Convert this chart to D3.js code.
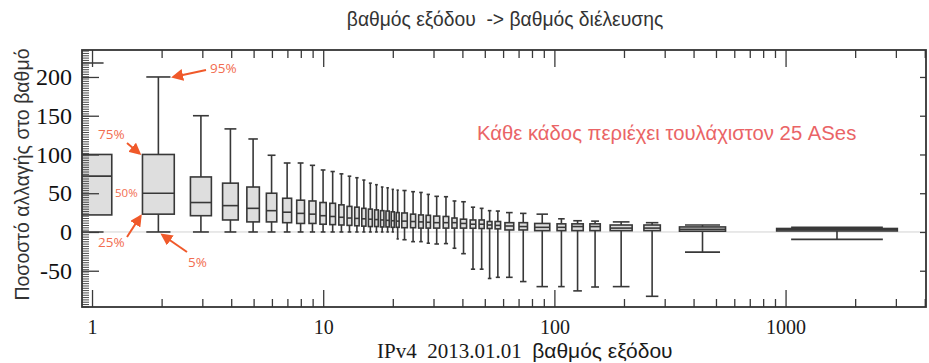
<!DOCTYPE html>
<html>
<head>
<meta charset="utf-8">
<script src="https://cdn.jsdelivr.net/npm/d3@7"></script>
<style>
  body { margin: 0; background: #fff; }
  svg text { white-space: pre; }
</style>
</head>
<body>
<div class="chart"></div>
<script>
// bins of out-degree (edges), each box sits inside one bin
const binEdges = [0.5, 1.5, 2.5, 3.5, 4.5, 5.5, 6.5, 7.5, 8.5, 9.5, 10.5, 11.5, 12.5, 13.5,
  14.5, 15.5, 16.5, 17.5, 18.5, 19.5, 20.5, 21.5, 23.5, 25.5, 27.5, 29.5, 32.5, 35.5,
  38.5, 42.5, 46.5, 50.5, 54.5, 59.5, 68.5, 78.5, 100, 115, 138, 163, 232, 302, 633, 4400];

// percentiles of change (%) per bin
const p5 = [0, 0, 0, 0, 0, 0, 0, 0, 0, 0, 0, 0, 0, 0, 0, 0, 0, 0, 0, 0, -9, -10, -12.5,
  -12.5, -14.5, -15.5, -15, -21, -28, -48, -48, -60, -58.5, -58.5, -64, -70.5, -70.5,
  -76, -71, -70.5, -83, -26, -9.5];
const p25 = [22, 23, 21, 15.5, 13, 13, 12, 11, 11, 10, 9.5, 9, 8.5, 8, 7.5, 7, 7, 6.5,
  6.5, 6, 6, 5.5, 5.5, 5, 5, 5, 5, 5, 5, 4.8, 4.5, 4.5, 4, 2.6, 2.6, 1.7, 1.7, 1.7, 1.7,
  1.7, 1.7, 1, 1.3];
const p50 = [72, 50, 38, 34, 30.5, 27.5, 25.5, 24, 23, 21, 20, 19, 18, 17.5, 17, 16.5,
  16, 15.5, 15, 14.5, 14, 14, 13.5, 13, 12.5, 12, 12, 12, 11, 10, 10, 9, 8.5, 7.7, 7, 6,
  6, 7, 7, 5, 5, 3.5, 3];
const p75 = [100, 100, 71, 63, 58, 50, 43.5, 41, 40, 38, 37, 35, 33, 32, 30.5, 29.5,
  28.5, 27.5, 27, 26, 25, 24.5, 23, 22, 21.5, 20.5, 20, 18, 16.5, 15.5, 15.5, 13.5,
  13.5, 12, 12, 11, 10.5, 10.5, 10.5, 9, 9, 6.5, 4.5];
const p95 = [218, 200, 150, 133, 120, 99, 89, 89, 86, 80, 78, 75, 72, 70, 67, 63, 61,
  58, 57, 55, 54, 53.5, 52, 51, 48.5, 46, 45.5, 40, 39, 32, 30.5, 27.5, 27, 25, 24, 23,
  17, 14.5, 14, 13, 12, 9, 6];

const xTickValues = [1, 10, 100, 1000];
const yTickValues = [-50, 0, 50, 100, 150, 200];

const titleText = "βαθμός εξόδου  -> βαθμός διέλευσης";
const yLabelText = "Ποσοστό αλλαγής στο βαθμό";
const xLabelSerif = "IPv4  2013.01.01  ";
const xLabelSans = "βαθμός εξόδου";
const noteText = "Κάθε κάδος περιέχει τουλάχιστον 25 ASes";

const width = 929;
const height = 363;
const plotLeft = 82, plotRight = 926, plotTop = 50, plotBottom = 307;

const x = d3.scaleLog().domain([0.905, 4050]).range([plotLeft, plotRight]);
const y = d3.scaleLinear().domain([-96.8, 234.8]).range([plotBottom, plotTop]);

const svg = d3
  .select(".chart")
  .append("svg")
  .attr("width", width)
  .attr("height", height);

const defs = svg.append("defs");
defs
  .append("clipPath")
  .attr("id", "plotClip")
  .append("rect")
  .attr("x", plotLeft)
  .attr("y", plotTop)
  .attr("width", plotRight - plotLeft)
  .attr("height", plotBottom - plotTop);

const arrowColor = "#f0592a";
defs
  .append("marker")
  .attr("id", "arrowHead")
  .attr("viewBox", "0 0 10 10")
  .attr("refX", 8)
  .attr("refY", 5)
  .attr("markerWidth", 6)
  .attr("markerHeight", 6)
  .attr("orient", "auto")
  .append("path")
  .attr("d", "M0,0 L10,5 L0,10 z")
  .attr("fill", arrowColor);

// zero line
svg
  .append("line")
  .attr("x1", plotLeft)
  .attr("x2", plotRight)
  .attr("y1", y(0))
  .attr("y2", y(0))
  .attr("stroke", "#d2d2d2")
  .attr("stroke-width", 1);

const boxes = p50.map((m, i) => {
  const lo = Math.log10(binEdges[i]);
  const hi = Math.log10(binEdges[i + 1]);
  const half = ((hi - lo) * 0.62) / 2;
  const mid = (lo + hi) / 2;
  return {
    c: Math.pow(10, mid),
    x0: Math.pow(10, mid - half),
    x1: Math.pow(10, mid + half),
    k0: Math.pow(10, mid - half * 0.76),
    k1: Math.pow(10, mid + half * 0.76),
    p5: p5[i],
    p25: p25[i],
    p50: m,
    p75: p75[i],
    p95: p95[i]
  };
});

const boxColor = "#383838";
const boxGroup = svg.append("g").attr("clip-path", "url(#plotClip)");

const bx = boxGroup
  .selectAll("g.box")
  .data(boxes)
  .enter()
  .append("g")
  .classed("box", true)
  .attr("stroke", boxColor)
  .attr("stroke-width", 1.6);

bx.append("line")
  .attr("x1", d => x(d.c))
  .attr("x2", d => x(d.c))
  .attr("y1", d => y(d.p95))
  .attr("y2", d => y(d.p5));

bx.append("line")
  .attr("x1", d => x(d.k0))
  .attr("x2", d => x(d.k1))
  .attr("y1", d => y(d.p95))
  .attr("y2", d => y(d.p95));

bx.append("line")
  .attr("x1", d => x(d.k0))
  .attr("x2", d => x(d.k1))
  .attr("y1", d => y(d.p5))
  .attr("y2", d => y(d.p5));

bx.append("rect")
  .attr("x", d => x(d.x0))
  .attr("width", d => x(d.x1) - x(d.x0))
  .attr("y", d => y(d.p75))
  .attr("height", d => y(d.p25) - y(d.p75))
  .attr("fill", "#dedede");

bx.append("line")
  .attr("x1", d => x(d.x0))
  .attr("x2", d => x(d.x1))
  .attr("y1", d => y(d.p50))
  .attr("y2", d => y(d.p50));

// axes
const minorX = [];
[1, 10, 100, 1000].forEach(p => {
  for (let k = 2; k <= 9; k++) {
    if (p * k < 4050) minorX.push(p * k);
  }
});
const minorY = d3.range(-96, 235, 3);

const styleAxis = g => {
  g.select(".domain").remove();
  g.selectAll(".tick line").attr("stroke", "#3a3a3a").attr("stroke-width", 1.3);
};

svg
  .append("g")
  .attr("transform", `translate(0,${plotBottom})`)
  .call(
    d3.axisBottom(x).tickValues(xTickValues).tickSizeInner(-17).tickSizeOuter(0)
      .tickPadding(13).tickFormat(d => String(d))
  )
  .call(styleAxis)
  .call(g =>
    g.selectAll("text")
      .attr("font-family", "'Liberation Serif', 'Times New Roman', serif")
      .attr("font-size", 20)
      .attr("fill", "#1a1a1a")
  );

svg
  .append("g")
  .attr("transform", `translate(0,${plotBottom})`)
  .call(d3.axisBottom(x).tickValues(minorX).tickSizeInner(-8).tickSizeOuter(0).tickFormat(""))
  .call(styleAxis);

svg
  .append("g")
  .attr("transform", `translate(0,${plotTop})`)
  .call(d3.axisTop(x).tickValues(xTickValues).tickSizeInner(-17).tickSizeOuter(0).tickFormat(""))
  .call(styleAxis);

svg
  .append("g")
  .attr("transform", `translate(0,${plotTop})`)
  .call(d3.axisTop(x).tickValues(minorX).tickSizeInner(-8).tickSizeOuter(0).tickFormat(""))
  .call(styleAxis);

svg
  .append("g")
  .attr("transform", `translate(${plotLeft},0)`)
  .call(
    d3.axisLeft(y).tickValues(yTickValues).tickSizeInner(-17).tickSizeOuter(0)
      .tickPadding(10).tickFormat(d => String(d))
  )
  .call(styleAxis)
  .call(g =>
    g.selectAll("text")
      .attr("font-family", "'Liberation Serif', 'Times New Roman', serif")
      .attr("font-size", 24)
      .attr("fill", "#111")
  );

svg
  .append("g")
  .attr("transform", `translate(${plotLeft},0)`)
  .call(d3.axisLeft(y).tickValues(minorY).tickSizeInner(-7).tickSizeOuter(0).tickFormat(""))
  .call(styleAxis)
  .call(g => g.selectAll(".tick line").attr("stroke-width", 1).attr("stroke", "#4a4a4a"));

svg
  .append("g")
  .attr("transform", `translate(${plotRight},0)`)
  .call(d3.axisRight(y).tickValues(yTickValues).tickSizeInner(-6).tickSizeOuter(0).tickFormat(""))
  .call(styleAxis);

// frame
svg
  .append("rect")
  .attr("x", plotLeft)
  .attr("y", plotTop)
  .attr("width", plotRight - plotLeft)
  .attr("height", plotBottom - plotTop)
  .attr("fill", "none")
  .attr("stroke", "#333")
  .attr("stroke-width", 1.8);

// titles
svg
  .append("text")
  .attr("x", 505)
  .attr("y", 26)
  .attr("text-anchor", "middle")
  .attr("font-family", "'Liberation Sans', Arial, sans-serif")
  .attr("font-size", 19.3)
  .attr("fill", "#333")
  .text(titleText);

svg
  .append("text")
  .attr("transform", `translate(29,${(plotTop + plotBottom) / 2 - 4}) rotate(-90)`)
  .attr("text-anchor", "middle")
  .attr("font-family", "'Liberation Sans', Arial, sans-serif")
  .attr("font-size", 19.5)
  .attr("fill", "#333")
  .text(yLabelText);

const xLabel = svg
  .append("text")
  .attr("x", 377)
  .attr("y", 358)
  .attr("fill", "#1a1a1a");
xLabel
  .append("tspan")
  .attr("font-family", "'Liberation Serif', 'Times New Roman', serif")
  .attr("font-size", 21)
  .text(xLabelSerif);
xLabel
  .append("tspan")
  .attr("font-family", "'Liberation Sans', Arial, sans-serif")
  .attr("font-size", 21)
  .text(xLabelSans);

svg
  .append("text")
  .attr("x", 477)
  .attr("y", 140)
  .attr("font-family", "'Liberation Sans', Arial, sans-serif")
  .attr("font-size", 20.3)
  .attr("fill", "#ea6466")
  .text(noteText);

// percentile hints on the second box
const b2 = boxes[1];
const labelColor = "#f26d50";
const hintGroup = svg.append("g").classed("customD3Hints", true);

const hints = [
  { text: "95%", tx: 210, ty: 73, size: 13.5, from: [206, 70], to: [x(b2.k1) + 3, y(b2.p95)] },
  { text: "75%", tx: 98, ty: 139, size: 13.5, from: [127, 143], to: [x(b2.x0) - 3, y(b2.p75) - 1] },
  { text: "50%", tx: 115, ty: 197, size: 11.5, from: null, to: null },
  { text: "25%", tx: 98, ty: 247, size: 13.5, from: [127, 237], to: [x(b2.x0) - 2, y(b2.p25) + 2] },
  { text: "5%", tx: 188, ty: 267, size: 13.5, from: [187, 252], to: [x(b2.c) + 4, y(b2.p5) + 3] }
];

hints.forEach(h => {
  hintGroup
    .append("text")
    .attr("x", h.tx)
    .attr("y", h.ty)
    .attr("font-family", "'Open Sans', 'Liberation Sans', sans-serif")
    .attr("font-size", h.size)
    .attr("fill", labelColor)
    .text(h.text);
  if (h.from) {
    hintGroup
      .append("line")
      .attr("x1", h.from[0])
      .attr("y1", h.from[1])
      .attr("x2", h.to[0])
      .attr("y2", h.to[1])
      .attr("stroke", arrowColor)
      .attr("stroke-width", 2)
      .attr("marker-end", "url(#arrowHead)");
  }
});
</script>
</body>
</html>
